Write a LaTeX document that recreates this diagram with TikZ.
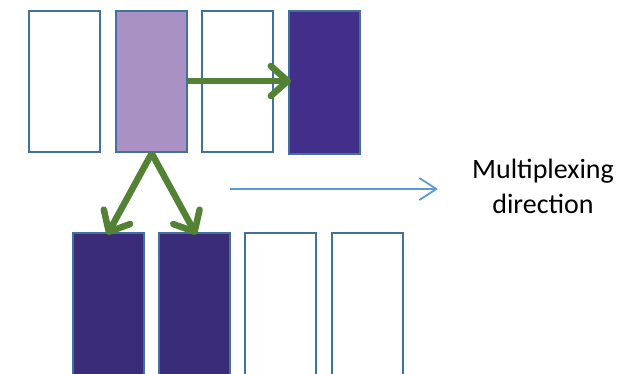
\documentclass[tikz,border=0pt]{standalone}
\usepackage{fontspec}
\setmainfont{Carlito}
\usetikzlibrary{arrows.meta}
\definecolor{outl}{HTML}{41719C}
\definecolor{lightpurp}{HTML}{A992C3}
\definecolor{darkpurp}{HTML}{412F8A}
\definecolor{darkpurpb}{HTML}{3A2C78}
\definecolor{grn}{HTML}{548235}
\definecolor{blu}{HTML}{5B9BD5}
\tikzset{
  slot/.style={draw=outl, line width=2.4pt, fill=white, minimum width=71pt, minimum height=141pt, inner sep=0pt, anchor=north west},
  bigslot/.style={slot, minimum height=170pt},
  garrow/.style={draw=grn, line width=6.5pt, -{Straight Barb[length=17pt, width=30pt, line cap=round, line join=round]}, shorten >=-3pt},
  barrow/.style={draw=blu, line width=1.8pt, -{Straight Barb[length=17pt, width=22pt]}},
}
\begin{document}
\begin{tikzpicture}[x=1pt,y=1pt]
\useasboundingbox (0,0) rectangle (635,-374);
\clip (0,0) rectangle (635,-374);
\node[slot] (t1) at (28,-10) {};
\node[slot, fill=lightpurp] (t2) at (115,-10) {};
\node[slot] (t3) at (201,-10) {};
\node[slot, fill=darkpurp, minimum height=143pt] (t4) at (288,-10) {};
\node[bigslot, fill=darkpurpb] (b1) at (72,-232) {};
\node[bigslot, fill=darkpurpb] (b2) at (158,-232) {};
\node[bigslot] (b3) at (244,-232) {};
\node[bigslot] (b4) at (331,-232) {};
\draw[garrow] (t2.east |- 0,-81) -- (t4.west |- 0,-81);
\draw[garrow] (t2.south) -- (b1.north);
\draw[garrow] (t2.south) -- (b2.north);
\coordinate (ls) at (230,-189);
\coordinate (le) at (438,-189);
\draw[barrow] (ls) -- (le);
\node[align=center, font=\fontsize{28}{35}\selectfont, inner sep=0pt] (lbl) at (543,-186) {Multiplexing\\direction};
\end{tikzpicture}
\end{document}
